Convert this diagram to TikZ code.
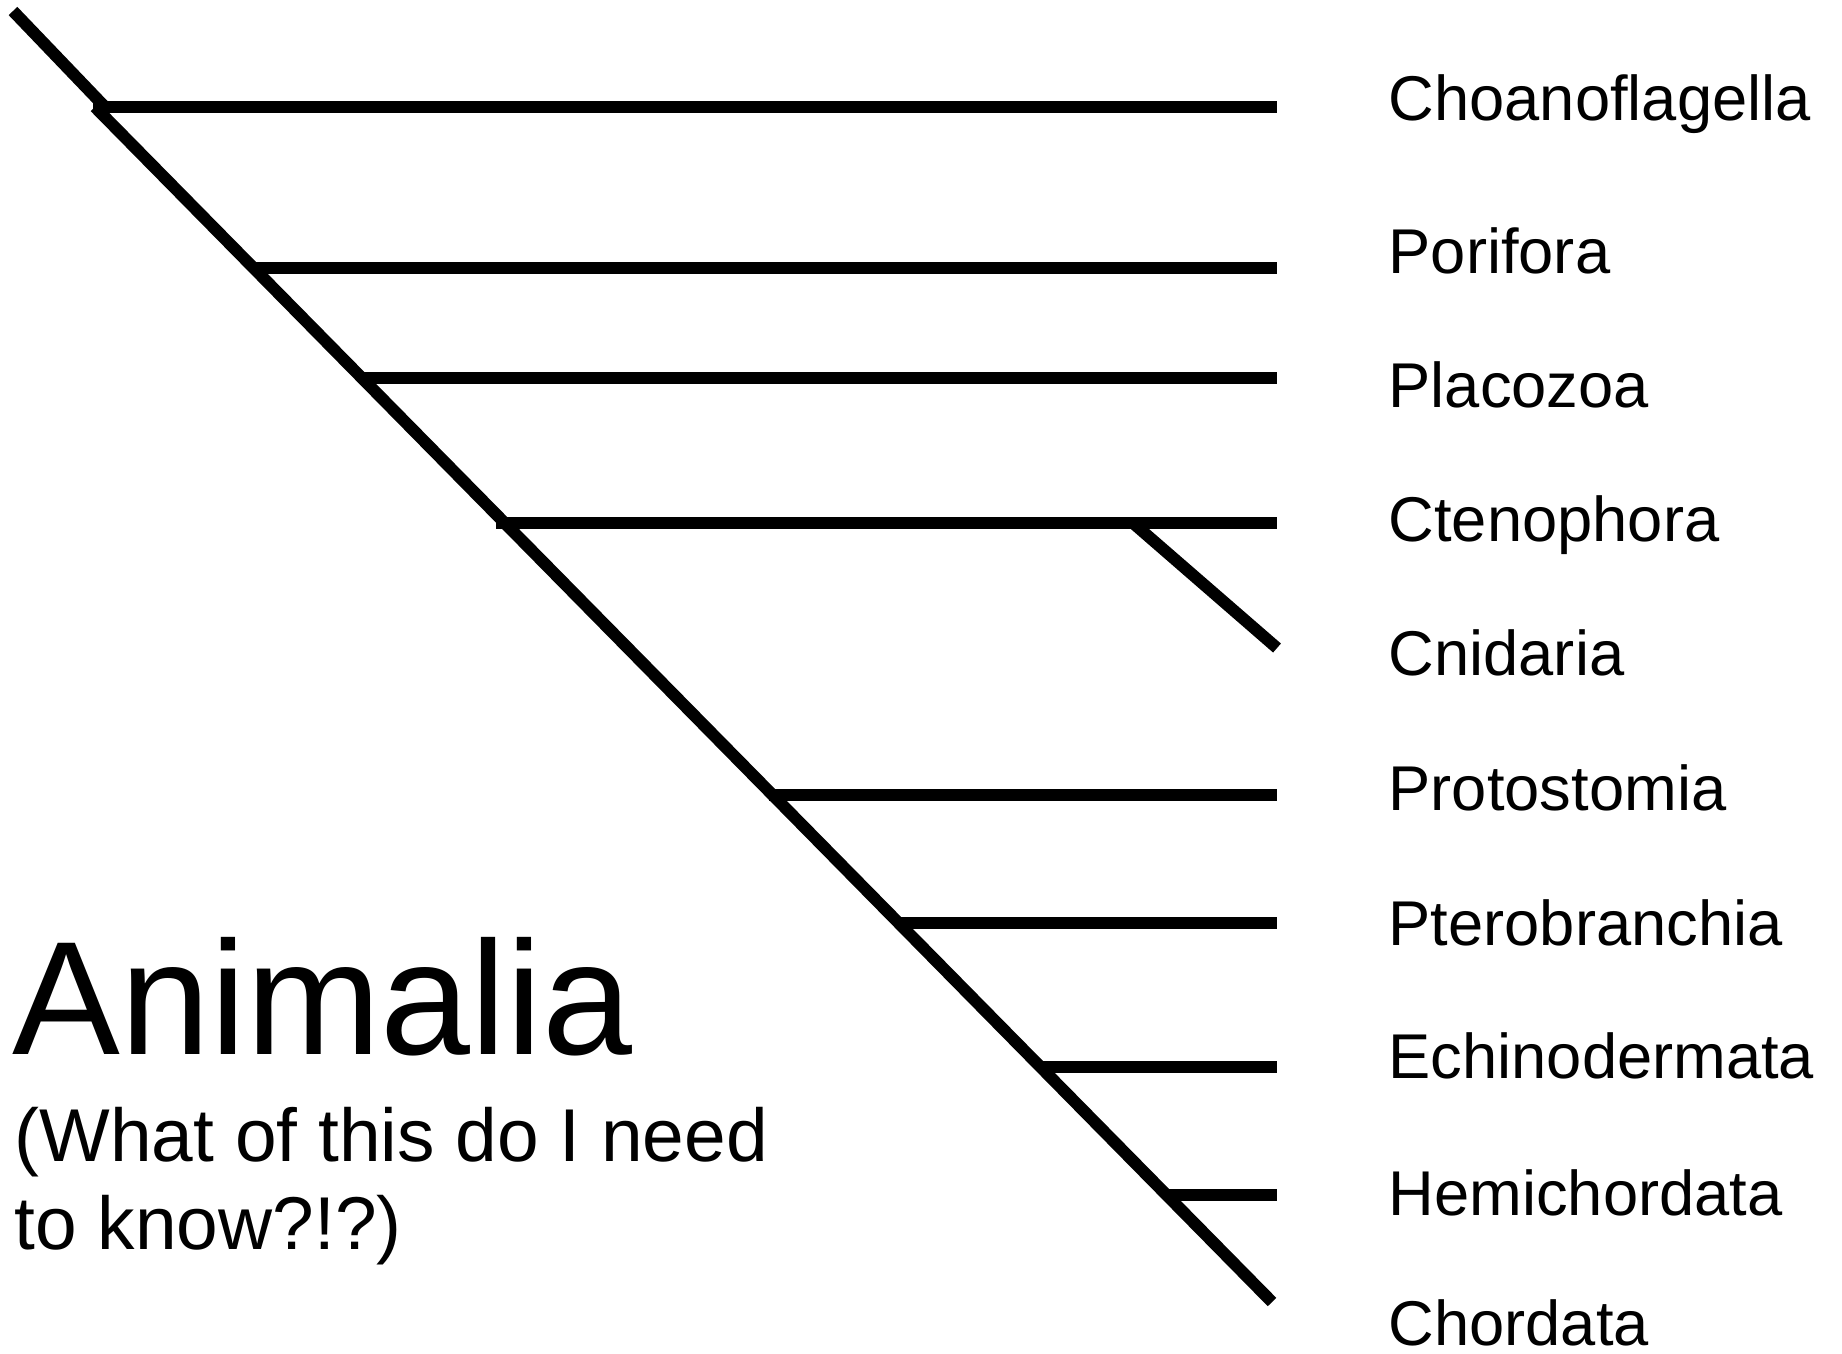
\documentclass[tikz,border=0pt]{standalone}
\usepackage{fontspec}
\setmainfont{Liberation Sans}
\usetikzlibrary{positioning}

\begin{document}
\begin{tikzpicture}[
	branch/.style={line width=3.4pt},
	taxon/.style={anchor=base west, inner sep=0pt, font=\fontsize{18}{22}\selectfont},
	title/.style={anchor=base west, inner sep=0pt, font=\fontsize{46}{55}\selectfont},
	subtitle/.style={anchor=base west, inner sep=0pt, align=left, font=\fontsize{21.3}{25}\selectfont}]
	
	\useasboundingbox (0,0) rectangle (18.42,-13.53);
	
	% Puntos de ramificacion sobre la diagonal
	\coordinate (root) at (0.13,-0.11);
	\coordinate (root_end) at (1.05,-1.07);
	\coordinate (diag) at (0.95,-1.07);
	\coordinate (j_choano) at (0.93,-1.07);
	\coordinate (j_porif) at (2.53,-2.68);
	\coordinate (j_placo) at (3.64,-3.78);
	\coordinate (j_cteno) at (4.96,-5.23);
	\coordinate (j_cnid) at (11.33,-5.23);
	\coordinate (j_proto) at (7.69,-7.95);
	\coordinate (j_ptero) at (8.99,-9.23);
	\coordinate (j_echino) at (10.40,-10.67);
	\coordinate (j_hemi) at (11.69,-11.95);
	
	% Extremos de las ramas
	\coordinate (t_choano) at (12.77,-1.07);
	\coordinate (t_porif) at (12.77,-2.68);
	\coordinate (t_placo) at (12.77,-3.78);
	\coordinate (t_cteno) at (12.77,-5.23);
	\coordinate (t_cnid) at (12.77,-6.48);
	\coordinate (t_proto) at (12.77,-7.95);
	\coordinate (t_ptero) at (12.77,-9.23);
	\coordinate (t_echino) at (12.77,-10.67);
	\coordinate (t_hemi) at (12.77,-11.95);
	\coordinate (t_chord) at (12.72,-13.02);
	
	% Tronco
	\draw[branch] (root) -- (root_end);
	\draw[branch] (diag) -- (t_chord);
	
	% Ramas
	\draw[branch] (j_choano) -- (t_choano);
	\draw[branch] (j_porif) -- (t_porif);
	\draw[branch] (j_placo) -- (t_placo);
	\draw[branch] (j_cteno) -- (t_cteno);
	\draw[branch] (j_cnid) -- (t_cnid);
	\draw[branch] (j_proto) -- (t_proto);
	\draw[branch] (j_ptero) -- (t_ptero);
	\draw[branch] (j_echino) -- (t_echino);
	\draw[branch] (j_hemi) -- (t_hemi);
	
	% Nombres de los grupos
	\node[taxon] (choano) at (13.88,-1.20) {Choanoflagella};
	\node[taxon] (porif) at (13.88,-2.73) {Porifora};
	\node[taxon] (placo) at (13.88,-4.07) {Placozoa};
	\node[taxon] (cteno) at (13.88,-5.41) {Ctenophora};
	\node[taxon] (cnid) at (13.88,-6.75) {Cnidaria};
	\node[taxon] (proto) at (13.88,-8.10) {Protostomia};
	\node[taxon] (ptero) at (13.88,-9.45) {Pterobranchia};
	\node[taxon] (echino) at (13.88,-10.78) {Echinodermata};
	\node[taxon] (hemi) at (13.88,-12.15) {Hemichordata};
	\node[taxon] (chord) at (13.88,-13.45) {Chordata};
	
	% Titulo
	\node[title] (animalia) at (0.12,-10.54) {Animalia};
	\node[subtitle] (question) at (0.14,-12.49) {(What of this do I need\\to know?!?)};
\end{tikzpicture}
\end{document}
